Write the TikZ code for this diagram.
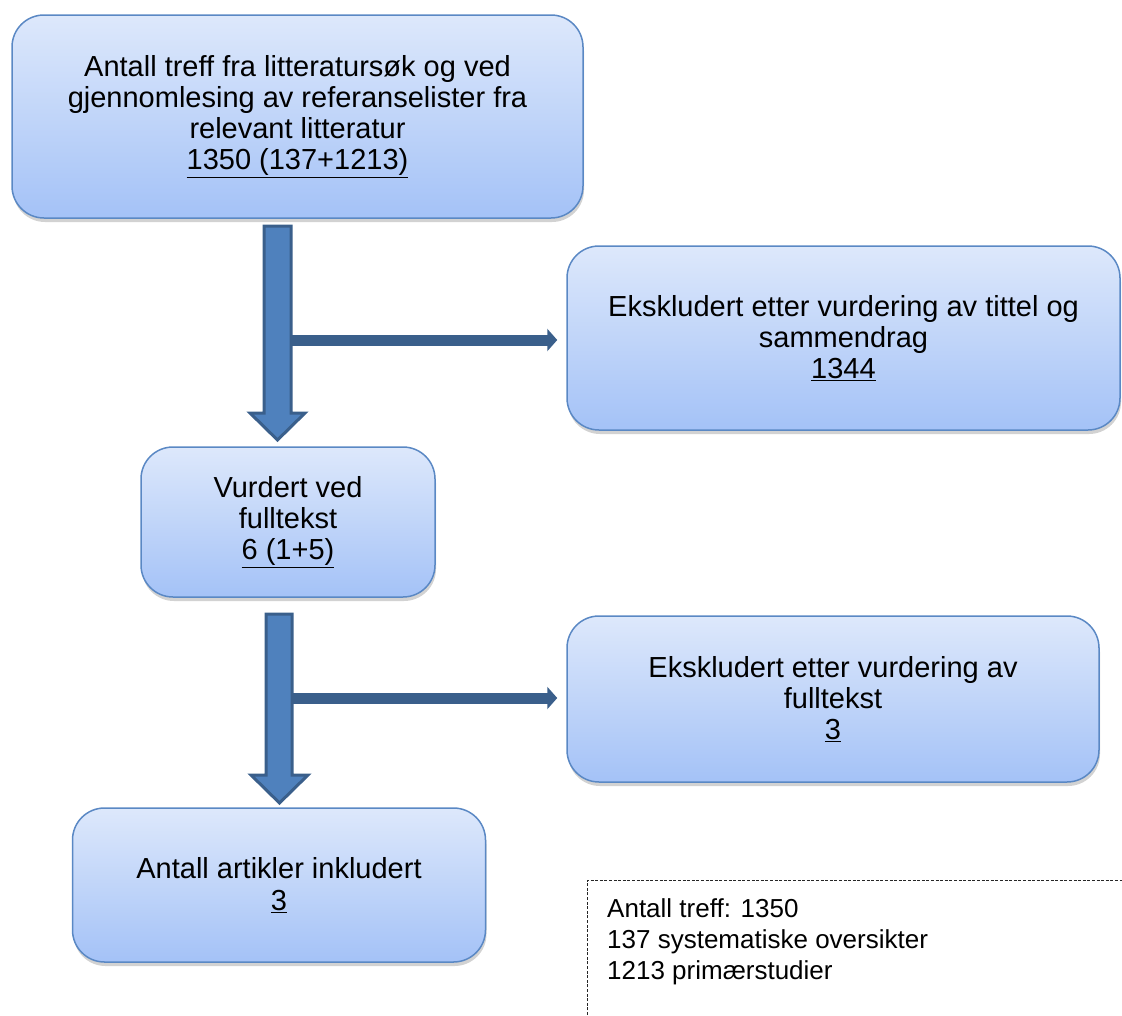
\documentclass[tikz,border=0pt]{standalone}
\usepackage{fontspec}
\setmainfont{Liberation Sans}
\usetikzlibrary{arrows.meta,shadows,calc}
\definecolor{boxtop}{HTML}{DDE8FB}
\definecolor{boxbot}{HTML}{A4C2F7}
\definecolor{boxline}{HTML}{5A88C4}
\definecolor{arrfill}{HTML}{4F81BD}
\definecolor{arrline}{HTML}{3A5F8B}
\tikzset{
  flowbox/.style={draw=boxline, line width=1.5pt, rounded corners=32pt,
    top color=boxtop, bottom color=boxbot, align=center, inner sep=0pt,
    font=\fontsize{29}{31.3}\selectfont,
    drop shadow={shadow xshift=1pt, shadow yshift=-4pt, opacity=0.25, fill=black!70}},
  blockarrow/.style={fill=arrfill, draw=arrline, line width=3pt, line join=miter},
  sidearrow/.style={draw=arrline, line width=11pt, -{Triangle[length=10pt,width=22pt]}, shorten >=9pt},
  notetext/.style={align=left, anchor=north west, inner sep=0pt, font=\fontsize{26}{31}\selectfont}
}
\begin{document}
\begin{tikzpicture}[x=1pt,y=-1pt]
\useasboundingbox (0,0) rectangle (1122,1015);
\node[flowbox, minimum width=571pt, minimum height=203pt] (b1) at (297.5,116.5)
  {Antall treff fra litteratursøk og ved\\gjennomlesing av referanselister fra\\relevant litteratur\\\underline{1350 (137+1213)}};
\node[flowbox, minimum width=553pt, minimum height=184pt] (b2) at (843.5,338)
  {Ekskludert etter vurdering av tittel og\\sammendrag\\\underline{1344}};
\node[flowbox, minimum width=294pt, minimum height=150pt] (b3) at (288,522)
  {Vurdert ved\\fulltekst\\\underline{6 (1+5)}};
\node[flowbox, minimum width=532pt, minimum height=166pt] (b4) at (833,699)
  {Ekskludert etter vurdering av\\fulltekst\\\underline{3}};
\node[flowbox, minimum width=413pt, minimum height=154pt] (b5) at (279,885)
  {Antall artikler inkludert\\\underline{3}};
% side arrows
\coordinate (j1) at (289,340);
\coordinate (j2) at (291,698);
\draw[sidearrow] (j1) -- (j1 -| b2.west);
\draw[sidearrow] (j2) -- (j2 -| b4.west);
% block arrows
\draw[blockarrow] (264,226) -- (291,226) -- (291,413) -- (305,413) -- (277.5,440) -- (250,413) -- (264,413) -- cycle;
\draw[blockarrow] (266,614) -- (292,614) -- (292,775) -- (308,775) -- (279.5,803) -- (251,775) -- (266,775) -- cycle;
% note
\draw[black!85, line width=0.8pt, dash pattern=on 3pt off 1.6pt] (587.5,1015) -- (587.5,880) -- (1122,880);
\node[notetext] (note) at (607,898)
  {Antall treff: 1350\\137 systematiske oversikter\\1213 primærstudier};
\end{tikzpicture}
\end{document}
